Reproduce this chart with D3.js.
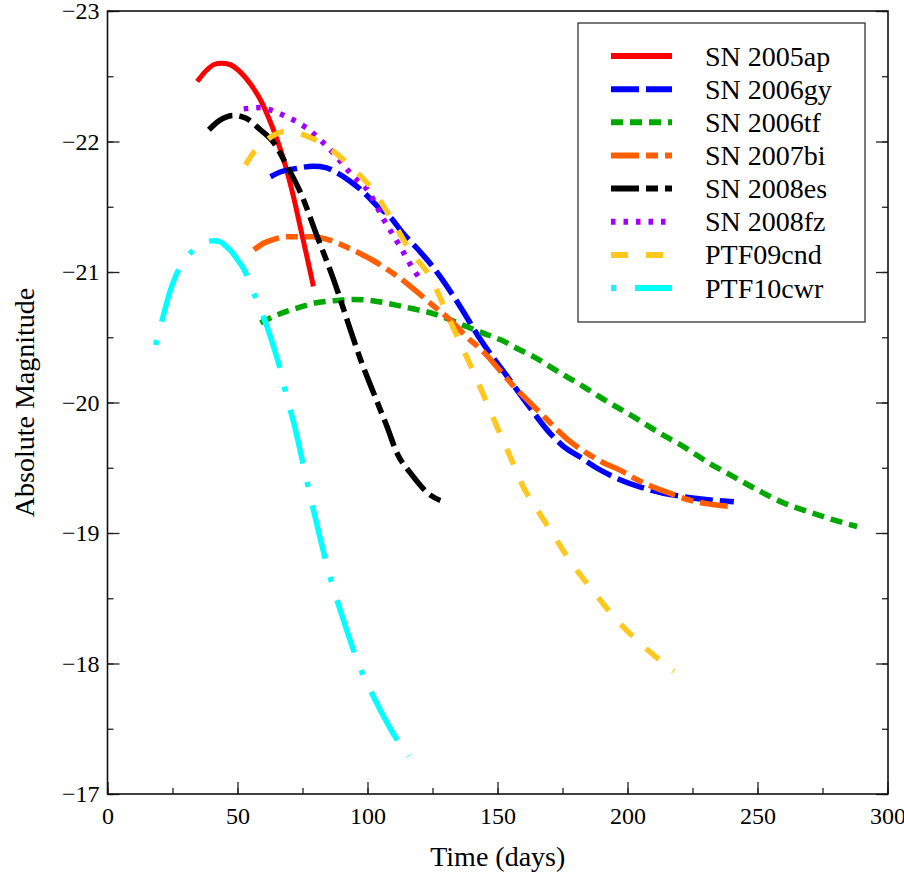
<!DOCTYPE html>
<html>
<head>
<meta charset="utf-8">
<script src="https://cdn.jsdelivr.net/npm/d3@7"></script>
<style>
  html, body { margin: 0; padding: 0; background: #fff; }
  svg { display: block; font-family: "Liberation Serif", "Times New Roman", serif; }
</style>
</head>
<body>
<svg id="chart" width="904" height="880"></svg>
<script>
// ---- data (time in days, absolute magnitude) ----
const names = ["SN 2005ap", "SN 2006gy", "SN 2006tf", "SN 2007bi", "SN 2008es", "SN 2008fz", "PTF09cnd", "PTF10cwr"];

const sn2005ap = [[34.5,-22.46],[38.3,-22.55],[41,-22.59],[43.8,-22.60],[47,-22.59],[51.2,-22.53],[55,-22.44],[58.8,-22.32],[62,-22.18],[65.3,-22.01],[68.5,-21.81],[71.5,-21.58],[74.2,-21.34],[77,-21.09],[79.2,-20.89]];

const sn2006gy = [[62.7,-21.73],[67,-21.77],[71.7,-21.79],[79.3,-21.81],[84,-21.80],[88.3,-21.76],[93,-21.70],[98.6,-21.61],[103.5,-21.51],[108.8,-21.42],[113.5,-21.30],[119.1,-21.18],[123.5,-21.08],[128.1,-20.96],[135.8,-20.73],[143.5,-20.48],[153.7,-20.20],[161.4,-19.99],[170.4,-19.76],[175,-19.67],[181.9,-19.58],[188,-19.50],[194.7,-19.43],[208.8,-19.33],[224.2,-19.27],[240.9,-19.24]];

const sn2006tf = [[58.8,-20.61],[64,-20.66],[69.1,-20.70],[74,-20.73],[79.3,-20.76],[87,-20.78],[94.7,-20.79],[102,-20.78],[110.1,-20.75],[117,-20.72],[125.5,-20.68],[131,-20.64],[138.3,-20.58],[144.7,-20.53],[151.2,-20.48],[157,-20.42],[164,-20.35],[173,-20.24],[183.2,-20.12],[192,-20.01],[202.4,-19.89],[212,-19.77],[221.7,-19.66],[231,-19.54],[240.9,-19.43],[250,-19.33],[260.1,-19.23],[270,-19.16],[279.3,-19.10],[288.3,-19.05]];

const sn2007bi = [[56.3,-21.17],[60,-21.22],[64,-21.25],[69,-21.27],[74.2,-21.27],[79,-21.27],[84.5,-21.25],[91,-21.20],[97.3,-21.14],[102,-21.09],[107.6,-21.02],[112.7,-20.95],[116.5,-20.89],[124.2,-20.76],[131.9,-20.63],[138.3,-20.50],[144.5,-20.39],[151.2,-20.24],[156,-20.13],[161.4,-20.02],[167,-19.91],[173,-19.79],[178,-19.70],[184.5,-19.61],[190.5,-19.54],[197.3,-19.48],[203.5,-19.41],[210.1,-19.35],[217,-19.30],[224.2,-19.25],[232,-19.22],[240.9,-19.20]];

const sn2008es = [[39,-22.09],[43,-22.16],[48.6,-22.20],[53.1,-22.18],[58.8,-22.09],[64,-21.99],[69.1,-21.81],[74.2,-21.61],[80.7,-21.27],[87,-20.94],[92.2,-20.63],[97.3,-20.33],[102.4,-20.07],[107.6,-19.81],[111.4,-19.61],[116.5,-19.46],[124.2,-19.29],[129.3,-19.24]];

const sn2008fz = [[52.4,-22.25],[58.8,-22.26],[63,-22.24],[67.8,-22.20],[72,-22.16],[76.8,-22.10],[84.5,-21.96],[89.5,-21.85],[94.7,-21.73],[99.9,-21.63],[106.3,-21.40],[112.7,-21.19],[117,-21.04],[120.4,-20.94]];

const ptf09cnd = [[53.1,-21.82],[56.3,-21.92],[60,-21.99],[64,-22.05],[69.1,-22.08],[76.8,-22.04],[84.5,-21.96],[93.5,-21.81],[101.2,-21.65],[108.8,-21.42],[116.5,-21.16],[124.2,-20.96],[131.9,-20.62],[142.2,-20.17],[149.9,-19.81],[155,-19.58],[159.5,-19.37],[166.5,-19.14],[170.4,-19.02],[178.1,-18.78],[187,-18.55],[196,-18.33],[206.3,-18.13],[217.8,-17.94]];

const ptf10cwr = [[18.5,-20.44],[21,-20.63],[24.2,-20.86],[27.4,-21.02],[30,-21.10],[32.6,-21.16],[36.5,-21.22],[40.9,-21.24],[43.5,-21.23],[46,-21.19],[48,-21.15],[50.5,-21.08],[52.5,-21.02],[54.3,-20.94],[57.6,-20.77],[61.4,-20.58],[64,-20.42],[66.5,-20.25],[69.1,-20.03],[71.7,-19.84],[76.2,-19.44],[80,-19.11],[85.1,-18.70],[90.3,-18.36],[97.3,-17.96],[101,-17.80],[105,-17.64],[110,-17.46],[115.9,-17.29]];

const seriesData = [sn2005ap, sn2006gy, sn2006tf, sn2007bi, sn2008es, sn2008fz, ptf09cnd, ptf10cwr];

const xTicks = [0, 50, 100, 150, 200, 250, 300];
const yTicks = [-23, -22, -21, -20, -19, -18, -17];
const xLabel = "Time (days)";
const yLabel = "Absolute Magnitude";

// ---- styles ----
const colors = ["#ff0000", "#0000ff", "#00a800", "#ff5f00", "#000000", "#a000ff", "#ffc81e", "#00ffff"];
const dashes = ["none", "28,7", "12,7", "28,7,12,7", "28,7,12,7", "4.5,8", "17,18", "5,19,55,19"];
const widths = [5, 5.5, 5.5, 5.5, 5.5, 5.5, 5.5, 5.5];

const FONT = "Liberation Serif, Times New Roman, serif";
const svg = d3.select("#chart");
const pLeft = 107.5, pRight = 888, pTop = 11, pBottom = 794;

const x = d3.scaleLinear().domain([0, 300]).range([pLeft, pRight - 0.5]);
const y = d3.scaleLinear().domain([-23, -17]).range([pTop, pBottom]);

// ---- curves ----
const line = d3.line().x(d => x(d[0])).y(d => y(d[1])).curve(d3.curveMonotoneX);
const g = svg.append("g");
seriesData.forEach((s, i) => {
  g.append("path")
    .attr("d", line(s))
    .attr("fill", "none")
    .attr("stroke", colors[i])
    .attr("stroke-width", widths[i])
    .attr("stroke-dasharray", dashes[i])
    .attr("stroke-linecap", "butt")
    .attr("stroke-linejoin", "round");
});

// ---- axes ----
const fmt = d3.format("d");
const xMinor = d3.range(0, 301, 25);
const yMinor = d3.range(-23, -16.99, 0.5);

function styleAxis(sel) {
  sel.attr("font-family", FONT).attr("font-size", 24);
  sel.select(".domain").remove();
  sel.selectAll(".tick line").attr("stroke", "#222").attr("stroke-width", 1.3);
  sel.selectAll("text").attr("fill", "#000");
}

svg.append("g").attr("transform", `translate(0,${pBottom})`)
  .call(d3.axisBottom(x).tickValues(xMinor).tickSize(-6).tickFormat(""))
  .call(styleAxis);
svg.append("g").attr("transform", `translate(0,${pBottom})`)
  .call(d3.axisBottom(x).tickValues(xTicks).tickSize(-12).tickFormat(fmt))
  .call(styleAxis)
  .selectAll("text").attr("dy", "0.71em").attr("y", 13);

svg.append("g").attr("transform", `translate(${pLeft},0)`)
  .call(d3.axisLeft(y).tickValues(yMinor).tickSize(-6).tickFormat(""))
  .call(styleAxis);
svg.append("g").attr("transform", `translate(${pLeft},0)`)
  .call(d3.axisLeft(y).tickValues(yTicks).tickSize(-12).tickFormat(fmt))
  .call(styleAxis)
  .selectAll("text").attr("x", -8);

svg.append("g").attr("transform", `translate(${pRight},0)`)
  .call(d3.axisRight(y).tickValues(yMinor).tickSize(-6).tickFormat(""))
  .call(styleAxis);
svg.append("g").attr("transform", `translate(${pRight},0)`)
  .call(d3.axisRight(y).tickValues(yTicks).tickSize(-12).tickFormat(""))
  .call(styleAxis);

// frame
svg.append("rect")
  .attr("x", pLeft).attr("y", pTop)
  .attr("width", pRight - pLeft).attr("height", pBottom - pTop)
  .attr("fill", "none").attr("stroke", "#111").attr("stroke-width", 1.6);

// axis titles
svg.append("text")
  .attr("x", (pLeft + pRight) / 2).attr("y", 866)
  .attr("text-anchor", "middle")
  .attr("font-family", FONT).attr("font-size", 28)
  .text(xLabel);
svg.append("text")
  .attr("transform", `translate(34,${(pTop + pBottom) / 2}) rotate(-90)`)
  .attr("text-anchor", "middle")
  .attr("font-family", FONT).attr("font-size", 28)
  .text(yLabel);

// ---- legend ----
const lg = svg.append("g");
lg.append("rect")
  .attr("x", 578).attr("y", 23).attr("width", 287).attr("height", 299)
  .attr("fill", "#fff").attr("stroke", "#333").attr("stroke-width", 1.3);
names.forEach((n, i) => {
  const cy = 56 + i * 33.15;
  lg.append("line")
    .attr("x1", 611).attr("x2", 672).attr("y1", cy).attr("y2", cy)
    .attr("stroke", colors[i]).attr("stroke-width", 6)
    .attr("stroke-dasharray", dashes[i]);
  lg.append("text")
    .attr("x", 705).attr("y", cy + 9.5)
    .attr("font-family", FONT).attr("font-size", 28)
    .text(n);
});
</script>
</body>
</html>
